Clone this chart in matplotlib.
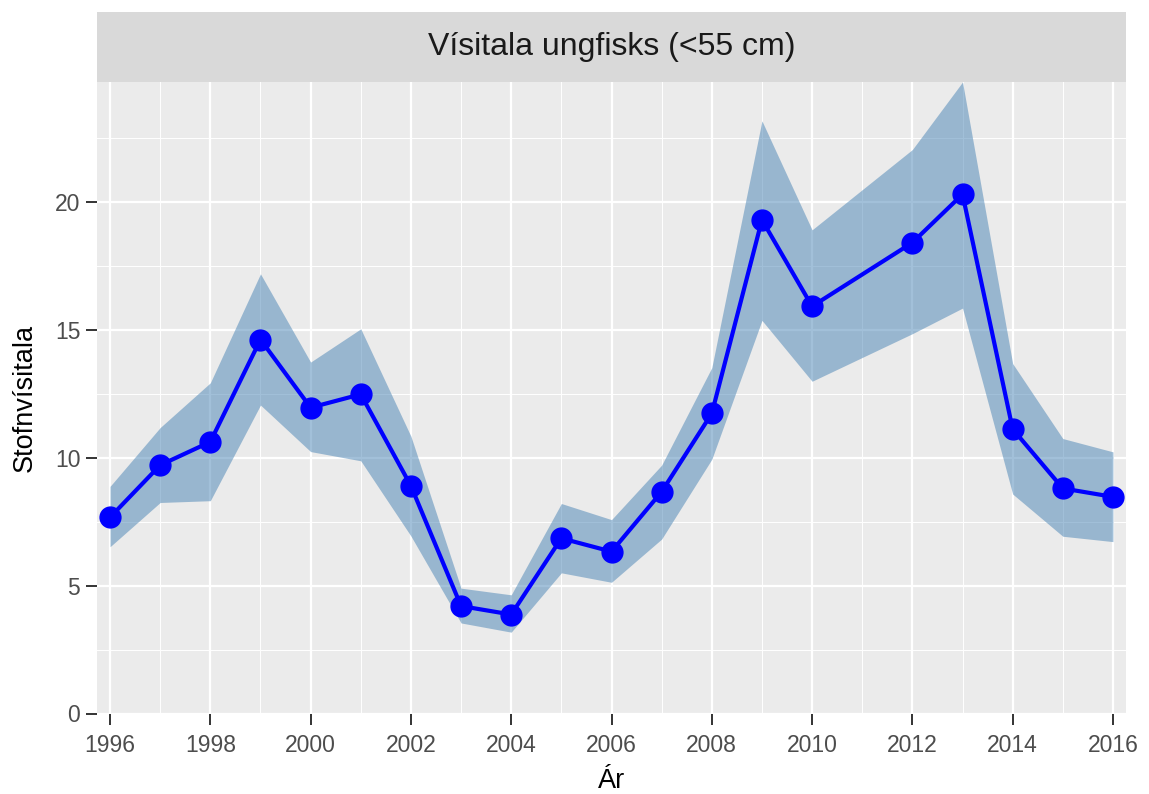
import matplotlib
matplotlib.use("Agg")
import matplotlib.pyplot as plt

plt.rcParams['font.family'] = ['Liberation Sans', 'DejaVu Sans']

# Data (no 2011 value)
years = [1996, 1997, 1998, 1999, 2000, 2001, 2002, 2003, 2004, 2005,
         2006, 2007, 2008, 2009, 2010, 2012, 2013, 2014, 2015, 2016]
index = [7.67, 9.71, 10.62, 14.62, 11.96, 12.48, 8.90, 4.20, 3.87, 6.85,
         6.33, 8.67, 11.73, 19.30, 15.92, 18.41, 20.30, 11.12, 8.80, 8.47]
upper = [8.88, 11.18, 12.93, 17.19, 13.74, 15.04, 10.84, 4.90, 4.64, 8.21,
         7.58, 9.71, 13.52, 23.17, 18.91, 22.05, 24.69, 13.68, 10.75, 10.23]
lower = [6.52, 8.25, 8.32, 12.06, 10.24, 9.88, 6.94, 3.54, 3.18, 5.50,
         5.13, 6.82, 9.94, 15.37, 12.99, 14.85, 15.85, 8.58, 6.93, 6.72]
x_ticks = list(range(1996, 2017, 2))
y_ticks = [0, 5, 10, 15, 20]

title = "Vísitala ungfisks (<55 cm)"

fig = plt.figure(figsize=(11.49, 7.94), dpi=100)
# panel in figure fractions (ggplot-like facet)
left, right = 97 / 1149, 1126 / 1149
bottom, top = 1 - 713.5 / 794, 1 - 82 / 794
ax = fig.add_axes([left, bottom, right - left, top - bottom])

ax.set_facecolor('#EBEBEB')
for s in ax.spines.values():
    s.set_visible(False)

# grid: major white, minor thinner
ax.set_xticks(x_ticks)
ax.set_xticks(list(range(1997, 2016, 2)), minor=True)
ax.set_yticks(y_ticks)
ax.set_yticks([2.5, 7.5, 12.5, 17.5, 22.5], minor=True)
ax.grid(which='major', color='white', linewidth=1.6)
ax.grid(which='minor', color='white', linewidth=0.7)
ax.set_axisbelow(True)

ax.fill_between(years, lower, upper, color='steelblue', alpha=0.5, linewidth=0, zorder=2)
ax.plot(years, index, color='blue', linewidth=3, zorder=3)
ax.plot(years, index, 'o', color='blue', markersize=15, zorder=4)

ax.set_xlim(1996 - 0.26, 2016 + 0.26)
ax.set_ylim(0, max(upper))

ax.tick_params(which='major', direction='out', length=8, width=1.4, color='#333333',
               labelsize=16.5, labelcolor='#4D4D4D', pad=4)
ax.tick_params(axis='x', which='major', pad=7)
ax.tick_params(which='minor', length=0)

ax.set_xlabel('Ár', fontsize=19.5, labelpad=8)
ax.set_ylabel('Stofnvísitala', fontsize=19.5, labelpad=12)

# facet strip
strip = fig.add_axes([left, 1 - 82 / 794, right - left, 70 / 794])
strip.set_facecolor('#D9D9D9')
strip.set_xticks([])
strip.set_yticks([])
for s in strip.spines.values():
    s.set_visible(False)
strip.text(0.5, 0.5, title, ha='center', va='center', fontsize=23,
           color='#1A1A1A', transform=strip.transAxes)

fig.savefig('out.png', dpi=100)
